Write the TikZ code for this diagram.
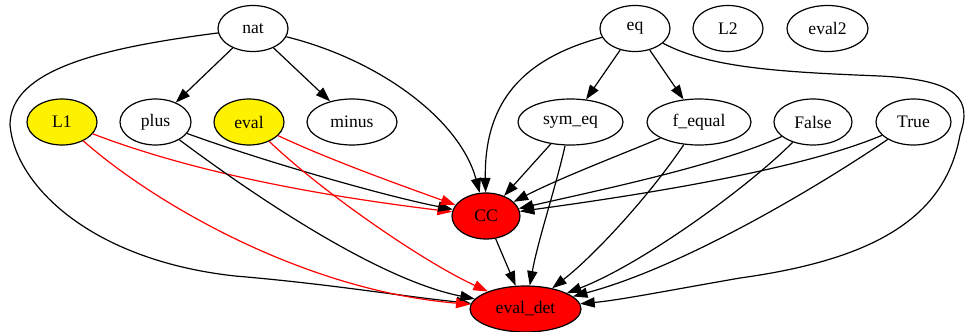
\documentclass[tikz,border=0pt]{standalone}
\usepackage{fontspec}
\setmainfont{Liberation Serif}
\usetikzlibrary{shapes.geometric,arrows.meta}
\begin{document}
\begin{tikzpicture}[x=1pt,y=-1pt,
  gnode/.style={ellipse,draw,line width=1.2pt,inner sep=0pt,minimum height=46pt,
    font=\fontsize{17.6}{20}\selectfont},
  hilite/.style={gnode,fill=yellow},
  target/.style={gnode,fill=red},
  edge/.style={line width=1.2pt,-{Triangle[length=14.5pt,width=10.2pt]}},
  redge/.style={edge,red}]
\useasboundingbox (0,0) rectangle (970,332);

% top row
\node[gnode,minimum width=70pt] (nat) at (253,28.5) {nat};
\node[gnode,minimum width=70pt] (eq) at (635,28.5) {eq};
\node[gnode,minimum width=70pt] (L2) at (728,28.5) {L2};
\node[gnode,minimum width=81pt] (eval2) at (827.5,28.5) {eval2};

% middle row
\node[hilite,minimum width=70pt] (L1) at (62,122) {L1};
\node[gnode,minimum width=71pt] (plus) at (155.5,122) {plus};
\node[hilite,minimum width=70pt] (eval) at (249,122) {eval};
\node[gnode,minimum width=90pt] (minus) at (352,122) {minus};
\node[gnode,minimum width=105pt] (symeq) at (570.5,122) {sym\_eq};
\node[gnode,minimum width=104pt] (fequal) at (699,122) {f\_equal};
\node[gnode,minimum width=78pt] (False) at (813,122) {False};
\node[gnode,minimum width=75pt] (True) at (913.5,122) {True};

% bottom rows
\node[target,minimum width=68pt] (CC) at (486,216) {CC};
\node[target,minimum width=111pt] (evaldet) at (525.5,309) {eval\_det};

% tree edges
\draw[edge] (nat) -- (plus);
\draw[edge] (nat) -- (minus);
\draw[edge] (eq) -- (symeq);
\draw[edge] (eq) -- (fequal);

% long edges from the top row
\draw[edge] (nat) .. controls (380,60) and (460,120) .. (CC);
\draw[edge] (nat) .. controls (100,48) and (10,70) .. (10,125)
  .. controls (15,185) and (90,260) .. (235,276)
  .. controls (330,284) and (400,296) .. (evaldet);
\draw[edge] (eq) .. controls (525,58) and (484,100) .. (CC);
\draw[edge] (eq) .. controls (710,68) and (780,72) .. (880,76)
  .. controls (960,80) and (972,100) .. (960,135)
  .. controls (945,220) and (870,260) .. (740,278)
  .. controls (660,292) and (620,300) .. (evaldet);

% left group
\draw[redge] (L1) .. controls (200,175) and (331,197) .. (CC);
\draw[redge] (L1) .. controls (150,200) and (300,290) .. (evaldet);
\draw[edge] (plus) .. controls (260,160) and (380,195) .. (CC);
\draw[edge] (plus) .. controls (260,200) and (380,280) .. (evaldet);
\draw[redge] (eval) .. controls (330,160) and (400,185) .. (CC);
\draw[redge] (eval) .. controls (320,190) and (420,260) .. (evaldet);

% right group
\draw[edge] (symeq) -- (CC);
\draw[edge] (symeq) .. controls (555,190) and (538,240) .. (evaldet);
\draw[edge] (fequal) .. controls (620,155) and (560,178) .. (CC);
\draw[edge] (fequal) .. controls (650,195) and (595,255) .. (evaldet);
\draw[edge] (False) .. controls (720,165) and (600,190) .. (CC);
\draw[edge] (False) .. controls (745,190) and (640,265) .. (evaldet);
\draw[edge] (True) .. controls (800,170) and (640,195) .. (CC);
\draw[edge] (True) .. controls (810,192) and (680,268) .. (evaldet);

\draw[edge] (CC) -- (evaldet);
\end{tikzpicture}
\end{document}
